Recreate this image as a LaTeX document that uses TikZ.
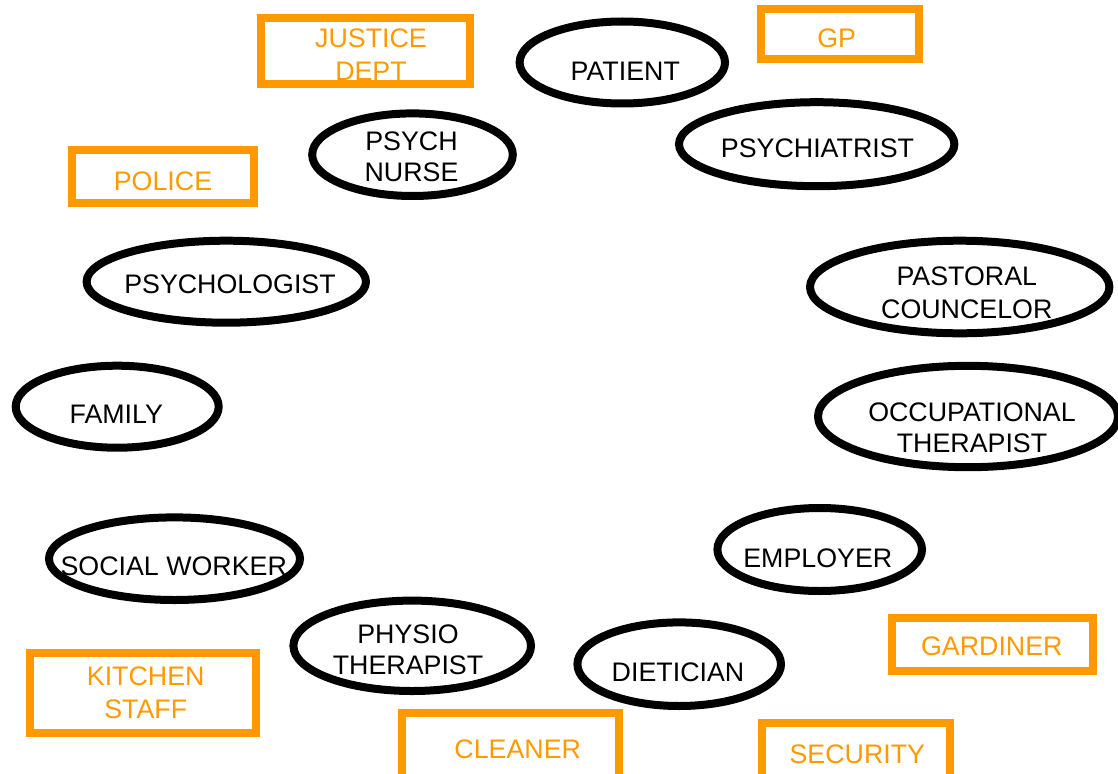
\documentclass[tikz,border=0pt]{standalone}
\usepackage{fontspec}
\setmainfont{Liberation Sans}
\usetikzlibrary{shapes.geometric}
\definecolor{orng}{HTML}{FF9900}
\begin{document}
\begin{tikzpicture}[x=1pt,y=-1pt,
  role/.style={draw=black, line width=8pt, ellipse, inner sep=0pt, fill=none},
  extra/.style={draw=orng, line width=8pt, rectangle, inner sep=0pt},
  txt/.style={font=\fontsize{26.8}{32.4}\selectfont, align=center, inner sep=0pt, text=black},
  otxt/.style={txt, text=orng}]
\useasboundingbox (0,0) rectangle (1118,773);
\clip (0,0) rectangle (1118,773);
% black ellipses
\node[role, minimum width=205.4pt, minimum height=82pt] (patient) at (622.3,62.5) {};
\node[role, minimum width=275.4pt, minimum height=84pt] (psychiatrist) at (816.7,144.2) {};
\node[role, minimum width=200.6pt, minimum height=82.6pt] (nurse) at (412.5,154.7) {};
\node[role, minimum width=279.4pt, minimum height=82pt] (psychologist) at (226.3,281.7) {};
\node[role, minimum width=203pt, minimum height=82pt] (family) at (117.2,406.7) {};
\node[role, minimum width=299.4pt, minimum height=92.6pt] (pastoral) at (959.7,287) {};
\node[role, minimum width=300pt, minimum height=101.4pt] (occupational) at (968,416.5) {};
\node[role, minimum width=251pt, minimum height=82.6pt] (social) at (174.5,558.7) {};
\node[role, minimum width=237.6pt, minimum height=90.4pt] (physio) at (412.2,645.8) {};
\node[role, minimum width=203.6pt, minimum height=83.6pt] (dietician) at (679.2,664.2) {};
\node[role, minimum width=204.6pt, minimum height=83pt] (employer) at (819.7,549.5) {};
% orange rectangles
\node[extra, minimum width=209pt, minimum height=66.3pt] (justice) at (365.8,51.2) {};
\node[extra, minimum width=158pt, minimum height=50pt] (gp) at (840.3,34.3) {};
\node[extra, minimum width=182pt, minimum height=53pt] (police) at (163.3,176.2) {};
\node[extra, minimum width=226pt, minimum height=79.7pt] (kitchen) at (143,692.8) {};
\node[extra, minimum width=217pt, minimum height=72.7pt] (cleaner) at (510.2,749.7) {};
\node[extra, minimum width=200.4pt, minimum height=53pt] (gardiner) at (992.5,644.5) {};
\node[extra, minimum width=188.3pt, minimum height=63pt] (security) at (855.9,754.5) {};
% texts
\node[txt] (patientT) at (625.3,70.8) {PATIENT};
\node[txt] (psychiatristT) at (817.5,148) {PSYCHIATRIST};
\node[txt, font=\fontsize{26.8}{31.7}\selectfont] (nurseT) at (411.5,156.7) {PSYCH\\NURSE};
\node[txt] (psychologistT) at (230,284.7) {PSYCHOLOGIST};
\node[txt] (familyT) at (116.3,414.2) {FAMILY};
\node[txt, font=\fontsize{26.8}{32.6}\selectfont] (pastoralT) at (966.8,292.5) {PASTORAL\\COUNCELOR};
\node[txt, font=\fontsize{26.8}{31}\selectfont] (occupationalT) at (972,427.3) {OCCUPATIONAL\\THERAPIST};
\node[txt] (socialT) at (173.7,566.3) {SOCIAL WORKER};
\node[txt, font=\fontsize{26.8}{31.7}\selectfont] (physioT) at (408,649.7) {PHYSIO\\THERAPIST};
\node[txt] (dieticianT) at (678,671.8) {DIETICIAN};
\node[txt] (employerT) at (817.8,558) {EMPLOYER};
\node[otxt] (justiceT) at (371,54.7) {JUSTICE\\DEPT};
\node[otxt] (gpT) at (836.7,38) {GP};
\node[otxt] (policeT) at (163,181.3) {POLICE};
\node[otxt, font=\fontsize{26.8}{32.6}\selectfont] (kitchenT) at (145.7,692.5) {KITCHEN\\STAFF};
\node[otxt] (cleanerT) at (517.7,749.7) {CLEANER};
\node[otxt] (gardinerT) at (991.8,645.8) {GARDINER};
\node[otxt] (securityT) at (857.3,754.3) {SECURITY};
\end{tikzpicture}
\end{document}
